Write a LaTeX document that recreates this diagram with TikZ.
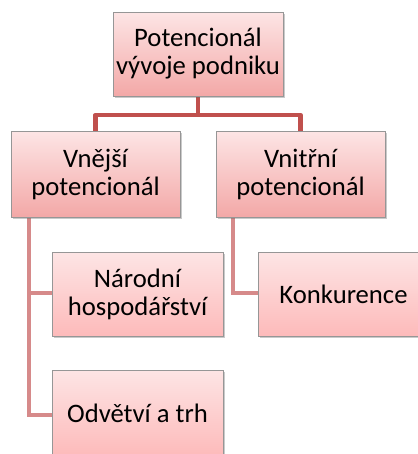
\documentclass[tikz,border=0pt]{standalone}
\usepackage{fontspec}
\setmainfont{Carlito}
\usetikzlibrary{shadows}
\definecolor{upline}{RGB}{192,80,77}
\definecolor{lowline}{RGB}{214,138,138}
\definecolor{boxtop}{RGB}{253,229,229}
\definecolor{boxbot}{RGB}{243,168,167}
\definecolor{boxbotl}{RGB}{253,186,186}
\definecolor{boxedge}{RGB}{150,150,150}
\tikzset{
  orgbox/.style={draw=boxedge, line width=0.6pt, top color=boxtop, bottom color=boxbot,
    minimum width=#1*0.75pt, align=center, inner sep=0pt,
    font=\fontsize{20}{21}\selectfont,
    drop shadow={shadow xshift=1.2pt, shadow yshift=-1.2pt, opacity=0.35, fill=black!60}},
  orgbox/.default=170,
  lowbox/.style={orgbox=171, bottom color=boxbotl},
  upconn/.style={draw=upline, line width=3.6pt},
  lowconn/.style={draw=lowline, line width=3.6pt},
}
\begin{document}
\begin{tikzpicture}[x=0.75pt, y=-0.75pt]
\useasboundingbox (0,0) rectangle (418,454);
\clip (0,0) rectangle (418,454);
% connectors
\coordinate (bar) at (198,115);
\coordinate (lx) at (29,217);
\coordinate (rx) at (233,217);
\draw[upconn] (198,96) -- (bar);
\draw[upconn, line join=round] (95.5,131) |- (300.5,115) -- (300.5,131);
\draw[lowconn] (lx) |- (52,293);
\draw[lowconn] (lx) |- (52,415);
\draw[lowconn] (rx) |- (258,293);
% boxes
\node[orgbox=170, minimum height=84*0.75pt] (T) at (198,54) {Potencionál\\vývoje podniku};
\node[orgbox=169, minimum height=86*0.75pt] (L1) at (95.5,174) {Vnější\\potencionál};
\node[orgbox=169, minimum height=86*0.75pt] (R1) at (300.5,174) {Vnitřní\\potencionál};
\node[lowbox, minimum height=84*0.75pt] (N) at (137.5,294) {Národní\\hospodářství};
\node[lowbox, minimum height=86*0.75pt] (O) at (137.5,413) {Odvětví a trh};
\node[lowbox, minimum height=84*0.75pt] (K) at (343.5,294) {Konkurence};
\end{tikzpicture}
\end{document}
